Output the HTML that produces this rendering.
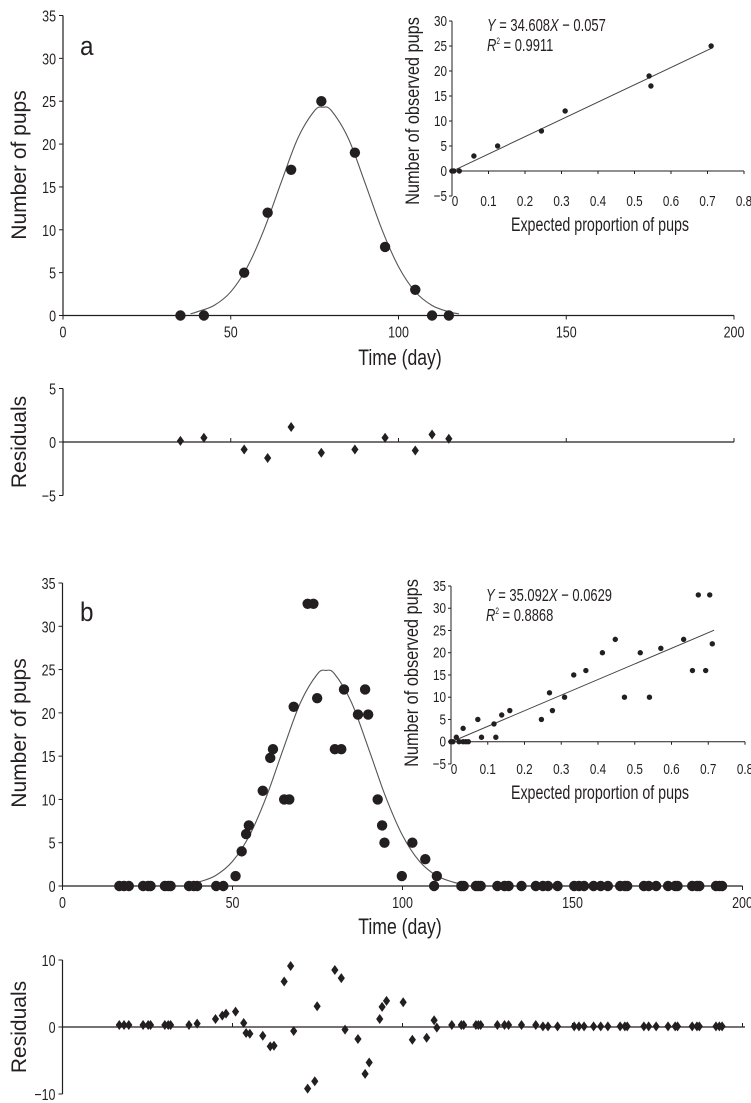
<!DOCTYPE html>
<html><head><meta charset="utf-8"><style>
html,body{margin:0;padding:0;background:#fff;}
svg{display:block;font-family:"Liberation Sans",sans-serif;}
text{fill:#231f20;}
</style></head><body>
<svg id="fig" width="751" height="1103" viewBox="0 0 751 1103">
</svg>
<script>
// ---------- DATA ----------
const aDays=[35,42,54,61,68,77,87,96,105,110,115];
const aPups=[0,0,5,12,17,25,19,8,3,0,0];
const aCurveDays=[38,40,45,50,55,60,65,70,75,77.5,80,85,90,95,100,105,110,115,118];
const aCurveVals=[0.2,0.43,1.17,2.77,5.7,10.1,15.5,20.7,23.9,24.3,23.9,20.7,15.5,10.1,5.7,2.77,1.17,0.43,0.2];
const aResDays=[35,42,54,61,68,77,87,96,105,110,115];
const aResVals=[0.1,0.4,-0.7,-1.5,1.4,-1.0,-0.7,0.4,-0.8,0.7,0.3];
const aInsetX=[0,0.005,0.02,0.06,0.125,0.245,0.31,0.54,0.545,0.71];
const aInsetY=[0,0,0,3,5,8,12,19,17,25];
const aSlope=34.608, aIntercept=-0.057;

const bDays=[16.7,18.1,19.5,23.7,25.2,25.9,30.1,31.1,31.8,37.2,38.6,39.6,45.2,47.3,50.9,52.7,54,54.8,58.9,61.1,61.9,65.2,66.7,68,72.1,73.8,74.9,80.1,82,82.8,86.9,89,89.9,92.7,94,94.7,99.8,102.9,106.7,109.3,110.1,117.3,118,121.6,122.3,123,127.9,130,131.2,135,139.2,141.3,142.8,145.6,150.5,151.9,153.4,156.2,158.3,160.4,164,165.4,166.1,171,172.4,174.6,178.1,180.2,180.9,185.2,186.6,187.3,192.2,193.2,194];
const bPups=[0,0,0,0,0,0,0,0,0,0,0,0,0,0,1.15,4,6,7,11,14.8,15.8,10,10,20.7,32.6,32.6,21.7,15.8,15.8,22.7,19.8,22.7,19.8,10,7,5,1.15,5,3.1,0,1.15,0,0,0,0,0,0,0,0,0,0,0,0,0,0,0,0,0,0,0,0,0,0,0,0,0,0,0,0,0,0,0,0,0,0];
const bCurveDays=[38,40,45,50,55,60,65,70,75,77.5,80,85,90,95,100,105,110,115,118];
const bCurveVals=[0.2,0.44,1.2,2.84,5.84,10.35,15.9,21.2,24.5,24.9,24.5,21.2,15.9,10.35,5.84,2.84,1.2,0.44,0.2];
const bResDays=[16.7,18.1,19.5,23.7,25.2,25.9,30.1,31.1,31.8,37.2,39.6,45,47,48.1,50.9,53.3,54,55.1,58.9,61.1,62.2,65.2,67.1,68,72.1,74.2,74.9,80.1,82,83.1,86.9,89,90.2,93.3,94,95.3,100.2,102.9,107.1,109.3,110.1,114.5,117.3,118,121.6,122.3,123,127.9,130,131.2,135,139.2,141.3,142.8,145.6,150.5,151.9,153.4,156.2,158.3,160.4,164,165.4,166.1,171,172.4,174.6,178.1,180.2,180.9,185.2,186.6,187.3,192.2,193.2,194];
const bResVals=[0.3,0.3,0.3,0.3,0.3,0.3,0.3,0.3,0.3,0.3,0.5,1.2,1.7,2.0,2.3,0.6,-0.9,-1.0,-1.3,-2.9,-2.8,6.8,9.1,-0.6,-9.2,-8.1,3.1,8.5,7.3,-0.4,-1.8,-7.0,-5.3,1.2,3.0,3.9,3.7,-1.9,-1.6,1.0,-0.1,0.3,0.3,0.3,0.3,0.3,0.3,0.3,0.3,0.3,0.3,0.3,0.1,0.1,0.1,0.1,0.1,0.1,0.1,0.1,0.1,0.1,0.1,0.1,0.1,0.1,0.1,0.1,0.1,0.1,0.1,0.1,0.1,0.1,0.1,0.1];
const bInsetX=[0,0.005,0.0145,0.022,0.033,0.04,0.047,0.033,0.073,0.083,0.117,0.122,0.138,0.16,0.246,0.268,0.276,0.309,0.334,0.367,0.412,0.447,0.472,0.515,0.54,0.571,0.633,0.657,0.673,0.693,0.704,0.711];
const bInsetY=[0,0,1,0,0,0,0,3,5,1,4,1,6,7,5,11,7,10,15,16,20,23,10,20,10,21,23,16,33,16,33,22];
const bSlope=35.092, bIntercept=-0.0629;

const mainTicksY=[0,5,10,15,20,25,30,35];
const dayTicks=[0,50,100,150,200];
const insetTicksX=[0,0.1,0.2,0.3,0.4,0.5,0.6,0.7,0.8];
const aInsetTicksY=[-5,0,5,10,15,20,25,30];
const bInsetTicksY=[-5,0,5,10,15,20,25,30,35];
const aResTicks=[-5,0,5];
const bResTicks=[-10,0,10];

// ---------- HELPERS ----------
const NS='http://www.w3.org/2000/svg';
const svg=document.getElementById('fig');
function mk(tag,attrs,parent){const e=document.createElementNS(NS,tag);for(const k in attrs)e.setAttribute(k,attrs[k]);(parent||svg).appendChild(e);return e;}
function txt(s,x,y,size,anchor,parent,sx,rot){
  sx=sx||0.78;
  const t=mk('text',{x:0,y:0,'font-size':size,'text-anchor':anchor||'middle',
    transform:`translate(${x},${y})${rot?' rotate('+rot+')':''} scale(${sx},1)`},parent);
  t.textContent=s;return t;}
function lin(d0,d1,p0,p1){return v=>p0+(v-d0)*(p1-p0)/(d1-d0);}
const fmtNeg=v=>v<0?'\u2212'+Math.abs(v):String(v);
function smooth(pts){
  let d='M'+pts[0][0].toFixed(1)+' '+pts[0][1].toFixed(1);
  for(let i=0;i<pts.length-1;i++){
    const p0=pts[i-1]||pts[i],p1=pts[i],p2=pts[i+1],p3=pts[i+2]||p2;
    const c1=[p1[0]+(p2[0]-p0[0])/6,p1[1]+(p2[1]-p0[1])/6];
    const c2=[p2[0]-(p3[0]-p1[0])/6,p2[1]-(p3[1]-p1[1])/6];
    d+=`C${c1[0].toFixed(1)} ${c1[1].toFixed(1)} ${c2[0].toFixed(1)} ${c2[1].toFixed(1)} ${p2[0].toFixed(1)} ${p2[1].toFixed(1)}`;
  }
  return d;
}

function mainPanel(id,X,Y,xEnd,days,pups,cd,cv){
  const g=mk('g',{});
  
  
  mk('line',{x1:X(0),y1:Y(0),x2:X(0),y2:Y(35),stroke:'#231f20','stroke-width':1.2},g);
  mk('line',{x1:X(0),y1:Y(0),x2:xEnd,y2:Y(0),stroke:'#231f20','stroke-width':1.2},g);
  mainTicksY.forEach(v=>{mk('line',{x1:X(0)-4,x2:X(0),y1:Y(v),y2:Y(v),stroke:'#231f20'},g);
    const t=txt(String(v),X(0)-7,Y(v)+6,16,'end',g);});
  dayTicks.forEach(v=>{mk('line',{x1:X(v),x2:X(v),y1:Y(0),y2:Y(0)+4,stroke:'#231f20'},g);
    const t=txt(String(v),X(v),Y(0)+22,16,'middle',g);});
  const p=mk('path',{d:smooth(cd.map((x,i)=>[X(x),Y(cv[i])])),fill:'none',stroke:'#555',"stroke-width":1.1},g);
  
  
  days.forEach((x,i)=>{const c=mk('circle',{cx:X(x),cy:Y(pups[i]),r:5.2,fill:'#231f20'},g);
    
    });
}
function residPanel(id,X,Y,xEnd,ticks,top,bot,days,vals){
  const g=mk('g',{});
  
  
  mk('line',{x1:X(0),y1:Y(top),x2:X(0),y2:Y(bot),stroke:'#231f20','stroke-width':1.2},g);
  mk('line',{x1:X(0),y1:Y(0),x2:xEnd,y2:Y(0),stroke:'#231f20','stroke-width':1.2},g);
  [50,100,150,200].forEach(v=>mk('line',{x1:X(v),x2:X(v),y1:Y(0),y2:Y(0)-4,stroke:'#231f20'},g));
  ticks.forEach(v=>{mk('line',{x1:X(0)-4,x2:X(0),y1:Y(v),y2:Y(v),stroke:'#231f20'},g);
    const t=txt(fmtNeg(v),X(0)-7,Y(v)+6,16,'end',g);});
  days.forEach((x,i)=>{const cx=X(x),cy=Y(vals[i]);
    const p=mk('path',{d:`M${cx} ${cy-5}L${cx+3.6} ${cy}L${cx} ${cy+5}L${cx-3.6} ${cy}Z`,fill:'#231f20'},g);
    
    });
}
function inset(id,X,Y,xs,ys,ticksY,topV,slope,icpt,eq,r2,eqY,yTitleY){
  const g=mk('g',{});
  
  
  mk('line',{x1:X(0),y1:Y(topV),x2:X(0),y2:Y(-5),stroke:'#231f20'},g);
  mk('line',{x1:X(0),y1:Y(0),x2:X(0.8),y2:Y(0),stroke:'#231f20'},g);
  ticksY.forEach(v=>{mk('line',{x1:X(0)-3,x2:X(0),y1:Y(v),y2:Y(v),stroke:'#231f20'},g);
    txt(fmtNeg(v),X(0)-5,Y(v)+5,15,'end',g);});
  insetTicksX.forEach(v=>{mk('line',{x1:X(v),x2:X(v),y1:Y(0),y2:Y(0)+3,stroke:'#231f20'},g);
    txt(String(v),X(v)+(v===0?3:0),Y(-5)+10,15,'middle',g);});
  const xe=Math.max(...xs)+0.005;
  const l=mk('line',{x1:X(0),y1:Y(icpt),x2:X(xe),y2:Y(slope*xe+icpt),stroke:'#444','stroke-width':1},g);
  
  
  xs.forEach((x,i)=>{const c=mk('circle',{cx:X(x),cy:Y(ys[i]),r:2.7,fill:'#231f20'},g);
    
    });
  const e=txt('',X(0)+35,eqY,18,'start',g,0.72);
  
  
  e.innerHTML='<tspan font-style="italic">Y</tspan> = '+eq.a+'<tspan font-style="italic">X</tspan> \u2212 '+eq.b;
  const r=txt('',X(0)+35,eqY+20,18,'start',g,0.72);
  
  
  r.innerHTML='<tspan font-style="italic">R</tspan><tspan font-size="9" dy="-7">2</tspan><tspan dy="7"> = '+r2+'</tspan>';
  const xt=txt('Expected proportion of pups',X(0.4)+2,Y(-5)+35,19,'middle',g,0.75);
  
  
  const yt=txt('Number of observed pups',X(0)-33,yTitleY,19,'middle',g,0.86,-90);
  
  
}

// ---------- PANEL A ----------
const aX=lin(0,200,63,734), aY=lin(0,35,315.5,15.5);
mainPanel('panel-a',aX,aY,734,aDays,aPups,aCurveDays,aCurveVals);
const la=txt('a',80,55,27,'start',svg,0.9);
const ya=txt('Number of pups',26,165,21,'middle',svg,1,-90);
const ta=txt('Time (day)',400,365,22,'middle',svg,0.8);
const arY=lin(0,5,442,388.5);
residPanel('panel-a',aX,arY,734,aResTicks,5,-5,aResDays,aResVals);
const ra=txt('Residuals',26,442,21,'middle',svg,1,-90);
inset('panel-a',lin(0,0.8,452,744),lin(0,30,171,21),aInsetX,aInsetY,aInsetTicksY,30,aSlope,aIntercept,{a:'34.608',b:'0.057'},'0.9911',31,111);

// ---------- PANEL B ----------
const bX=lin(0,200,62.5,742.5), bY=lin(0,35,886,583);
mainPanel('panel-b',bX,bY,742.5,bDays,bPups,bCurveDays,bCurveVals);
const lb=txt('b',80,621,27,'start',svg,0.9);
const yb=txt('Number of pups',26,733,21,'middle',svg,1,-90);
const tb=txt('Time (day)',400,934,22,'middle',svg,0.8);
const brY=lin(0,10,1027,960);
residPanel('panel-b',bX,brY,745,bResTicks,10,-10,bResDays,bResVals);
const rb=txt('Residuals',26,1027,21,'middle',svg,1,-90);
inset('panel-b',lin(0,0.8,451,745),lin(0,35,741.7,586),bInsetX,bInsetY,bInsetTicksY,35,bSlope,bIntercept,{a:'35.092',b:'0.0629'},'0.8868',601,673);
</script>
</body></html>
